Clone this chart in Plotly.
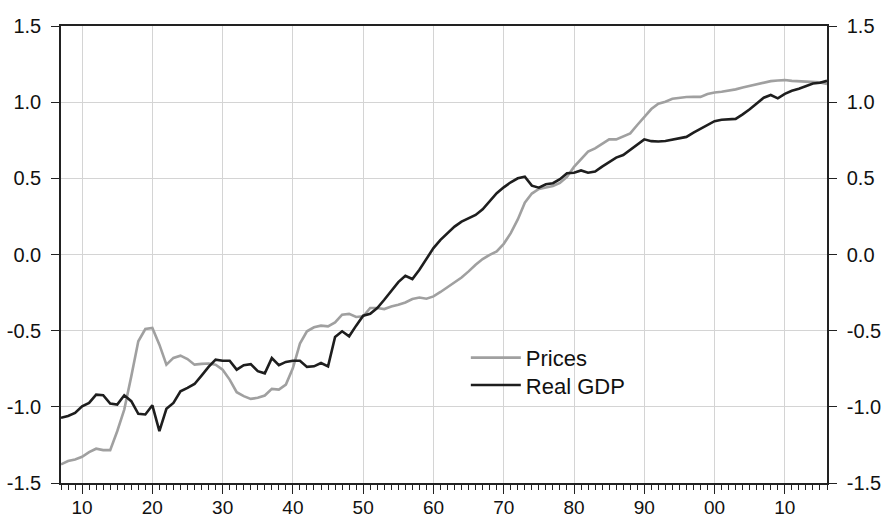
import plotly.graph_objects as go

years = list(range(1907, 2017))

real_gdp = [
    -1.072, -1.060, -1.040, -0.996, -0.974, -0.920, -0.924, -0.978, -0.985, -0.924,
    -0.963, -1.046, -1.050, -0.990, -1.160, -1.013, -0.974, -0.898, -0.876, -0.850,
    -0.795, -0.738, -0.690, -0.697, -0.697, -0.756, -0.727, -0.720, -0.766, -0.780,
    -0.680, -0.727, -0.705, -0.697, -0.697, -0.738, -0.734, -0.712, -0.734, -0.541,
    -0.504, -0.537, -0.467, -0.402, -0.389, -0.351, -0.297, -0.236, -0.181, -0.140,
    -0.161, -0.100, -0.030, 0.042, 0.096, 0.140, 0.183, 0.216, 0.238, 0.260,
    0.297, 0.347, 0.402, 0.441, 0.474, 0.500, 0.511, 0.452, 0.439, 0.461,
    0.468, 0.494, 0.533, 0.537, 0.552, 0.537, 0.544, 0.577, 0.609, 0.636,
    0.653, 0.686, 0.725, 0.756, 0.744, 0.742, 0.745, 0.755, 0.762, 0.772,
    0.800, 0.825, 0.845, 0.875, 0.885, 0.887, 0.890, 0.920, 0.953, 0.992,
    1.029, 1.047, 1.025, 1.055, 1.075, 1.088, 1.105, 1.123, 1.127, 1.140,
]

prices = [
    -1.378, -1.356, -1.345, -1.328, -1.297, -1.275, -1.284, -1.284, -1.160, -1.018,
    -0.800, -0.570, -0.489, -0.482, -0.592, -0.723, -0.679, -0.664, -0.686, -0.723,
    -0.718, -0.716, -0.723, -0.756, -0.821, -0.904, -0.930, -0.948, -0.941, -0.926,
    -0.882, -0.887, -0.854, -0.745, -0.585, -0.504, -0.478, -0.467, -0.472, -0.446,
    -0.395, -0.390, -0.410, -0.406, -0.351, -0.351, -0.358, -0.341, -0.330, -0.315,
    -0.292, -0.282, -0.290, -0.275, -0.246, -0.214, -0.181, -0.151, -0.111, -0.067,
    -0.030, -0.002, 0.020, 0.070, 0.140, 0.230, 0.340, 0.400, 0.430, 0.440,
    0.450, 0.470, 0.510, 0.575, 0.625, 0.675, 0.697, 0.725, 0.756, 0.756,
    0.773, 0.795, 0.850, 0.904, 0.955, 0.990, 1.003, 1.022, 1.030, 1.034,
    1.035, 1.035, 1.053, 1.064, 1.068, 1.075, 1.084, 1.097, 1.108, 1.117,
    1.130, 1.138, 1.142, 1.145, 1.140, 1.137, 1.135, 1.133, 1.130, 1.120,
]

x_tickvals = [1910, 1920, 1930, 1940, 1950, 1960, 1970, 1980, 1990, 2000, 2010]
x_ticktext = ["10", "20", "30", "40", "50", "60", "70", "80", "90", "00", "10"]
y_tickvals = [-1.5, -1.0, -0.5, 0.0, 0.5, 1.0, 1.5]
y_ticktext = ["-1.5", "-1.0", "-0.5", "0.0", "0.5", "1.0", "1.5"]

FONT = "Liberation Sans, Arial, sans-serif"
AXIS_COLOR = "#222222"
GRID_COLOR = "#d4d4d4"
TEXT_COLOR = "#111111"

legend_style = dict(xanchor="left", yanchor="middle", bgcolor="rgba(0,0,0,0)",
                    font=dict(size=22, family=FONT, color=TEXT_COLOR),
                    itemwidth=50, borderwidth=0)

fig = go.Figure()
fig.add_trace(go.Scatter(x=years, y=prices, mode="lines", name="Prices",
                         legend="legend",
                         line=dict(color="#a0a0a0", width=2.6)))
fig.add_trace(go.Scatter(x=years, y=real_gdp, mode="lines", name="Real GDP",
                         legend="legend2",
                         line=dict(color="#1e1e1e", width=2.6)))
# invisible trace so the right-hand axis is drawn
fig.add_trace(go.Scatter(x=[years[0]], y=[real_gdp[0]], yaxis="y2", mode="lines",
                         showlegend=False, hoverinfo="skip",
                         line=dict(color="rgba(0,0,0,0)")))

fig.update_layout(
    width=881, height=518,
    margin=dict(l=61, r=54, t=26, b=35, autoexpand=False),
    paper_bgcolor="white", plot_bgcolor="white",
    font=dict(family=FONT, color=TEXT_COLOR),
    showlegend=True,
    legend=dict(x=0.5285, y=0.274, **legend_style),
    legend2=dict(x=0.5285, y=0.214, **legend_style),
    xaxis=dict(
        range=[1907, 2016], tickmode="array", tickvals=x_tickvals, ticktext=x_ticktext,
        ticks="outside", ticklen=9, tickcolor=AXIS_COLOR, tickwidth=1,
        showline=True, linecolor=AXIS_COLOR, linewidth=1.5, mirror=True,
        showgrid=True, gridcolor=GRID_COLOR, gridwidth=1, zeroline=False,
        tickfont=dict(size=19, family=FONT, color=TEXT_COLOR), automargin=False,
        ticklabelstandoff=-3,
        minor=dict(tickmode="linear", tick0=1907, dtick=1, ticks="outside",
                   ticklen=5, tickcolor=AXIS_COLOR, showgrid=False),
    ),
    yaxis=dict(
        range=[-1.5, 1.5], tickmode="array", tickvals=y_tickvals, ticktext=y_ticktext,
        ticks="outside", ticklen=8, tickcolor=AXIS_COLOR,
        showline=True, linecolor=AXIS_COLOR, linewidth=1.5,
        showgrid=True, gridcolor=GRID_COLOR, gridwidth=1, zeroline=False,
        tickfont=dict(size=20, family=FONT, color=TEXT_COLOR), ticklabelstandoff=6,
        automargin=False,
    ),
    yaxis2=dict(
        range=[-1.5, 1.5], tickmode="array", tickvals=y_tickvals, ticktext=y_ticktext,
        overlaying="y", side="right",
        ticks="outside", ticklen=8, tickcolor=AXIS_COLOR,
        showline=True, linecolor=AXIS_COLOR, linewidth=1.5,
        showgrid=False, zeroline=False,
        tickfont=dict(size=20, family=FONT, color=TEXT_COLOR), ticklabelstandoff=6,
        automargin=False,
    ),
)

fig.write_html("out.html",
               config={"displayModeBar": False},
               post_script="document.body.style.margin='0';document.body.style.overflow='hidden';")
